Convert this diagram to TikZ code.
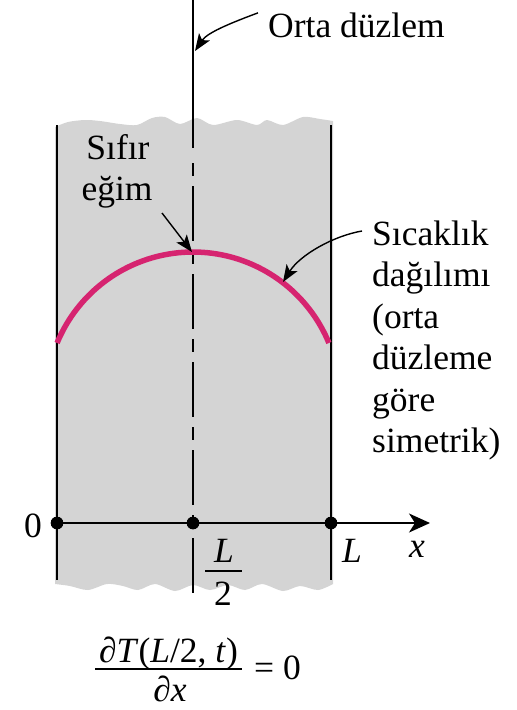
\documentclass[tikz,border=0pt]{standalone}
\usepackage{fontspec}
\setmainfont{Liberation Serif}
\usetikzlibrary{arrows.meta}
\definecolor{slab}{RGB}{212,212,212}
\definecolor{curvecol}{RGB}{214,36,112}
\begin{document}
\begin{tikzpicture}[x=1pt,y=-1pt,
  lbl/.style={font=\fontsize{35.5}{41.5}\selectfont, inner sep=0pt},
  pointer/.style={-{Stealth[length=17pt,width=13pt,inset=4pt]}, line width=1.4pt},
  edgeline/.style={line width=1.5pt},
  dot/.style={circle, fill=black, inner sep=0pt, minimum size=12.5pt}]
\useasboundingbox (0,0) rectangle (517,710);

% slab
\fill[slab] plot[smooth] coordinates {(55,127) (68,122) (85,120) (100,121) (120,124) (137,125) (152,118) (165,117) (180,124) (197,118) (213,125) (237,120) (257,125) (267,120) (283,125) (303,117) (320,119) (333,121)}
  -- plot[smooth] coordinates {(333,584) (318,590) (300,586) (283,591) (262,584) (245,590) (228,585) (210,590) (193,585) (175,591) (155,584) (138,590) (123,586) (107,584) (88,590) (70,586) (55,584)} -- cycle;

% slab faces
\coordinate (lt) at (57,125);  \coordinate (lb) at (57,580);
\coordinate (rt) at (331,125); \coordinate (rb) at (331,580);
\draw[edgeline] (lt) -- (lb);
\draw[edgeline] (rt) -- (rb);

% mid plane
\coordinate (mtop) at (193,0);
\coordinate (msolid) at (193,148);
\coordinate (mdash) at (193,163);
\coordinate (mbot) at (193,597);
\draw[edgeline] (mtop) -- (msolid);
\draw[edgeline, dash pattern=on 13pt off 10pt on 55pt off 10pt] (mdash) -- (mbot);

% temperature curve
\draw[curvecol, line width=5.5pt] plot[domain=-157.6:-22.4, samples=80, smooth] ({193+147*cos(\x)},{399+147*sin(\x)});

% axis
\node[dot] (o) at (57,523) {};
\node[dot] (m) at (193,523) {};
\node[dot] (l) at (331,523) {};
\coordinate (xend) at (430,523);
\draw[edgeline, -{Stealth[length=21pt,width=19pt,inset=6pt]}] (o.center) -- (xend);
\node[dot] at (o) {};
\node[dot] at (m) {};
\node[dot] at (l) {};

% axis labels
\node[lbl, anchor=base] (zero) at (33,537) {0};
\node[lbl, anchor=base west] (Llab) at (342,562) {\itshape L};
\node[lbl, anchor=base west] (xlab) at (409,557) {\itshape x};
\node[lbl, anchor=base] (halfL) at (224,562) {\itshape L};
\node[lbl, anchor=base] (halftwo) at (223,605) {2};
\coordinate (hb1) at (205,571); \coordinate (hb2) at (242,571);
\draw[line width=1.5pt] (hb1) -- (hb2);

% top label
\node[lbl, anchor=base west] (orta) at (268,37) {Orta düzlem};
\coordinate (ortatip) at (195,51);
\draw[pointer] (orta.west) ++(-10,-12) coordinate (ortatail)
  .. controls (228,24) and (207,33) .. (ortatip);

% Sifir egim
\node[lbl, anchor=base] (sifir) at (118,159) {Sıfır};
\node[lbl, anchor=base] (egim) at (117,200) {eğim};
\coordinate (egimtail) at (162,213);
\coordinate (egimtip) at (192,252);
\draw[pointer] (egimtail) -- (egimtip);

% right block
\node[lbl, anchor=base west] (r1) at (372,245) {Sıcaklık};
\node[lbl, anchor=base west] (r2) at (372,286.5) {dağılımı};
\node[lbl, anchor=base west] (r3) at (372,328) {(orta};
\node[lbl, anchor=base west] (r4) at (372,369.5) {düzleme};
\node[lbl, anchor=base west] (r5) at (372,411) {göre};
\node[lbl, anchor=base west] (r6) at (372,452.5) {simetrik)};
\coordinate (sictail) at (362,231);
\coordinate (sictip) at (283,282);
\draw[pointer] (sictail) .. controls (333,236) and (300,255) .. (sictip);

% formula
\node[lbl, anchor=base] (num) at (168.5,662) {∂\textit{T}(\textit{L}/2, \textit{t})};
\node[lbl, anchor=base] (den) at (170,701) {∂\textit{x}};
\coordinate (fb1) at (95,669); \coordinate (fb2) at (242,669);
\draw[line width=1.5pt] (fb1) -- (fb2);
\node[lbl, anchor=base west] (eqz) at (254,679) {= 0};
\end{tikzpicture}
\end{document}
